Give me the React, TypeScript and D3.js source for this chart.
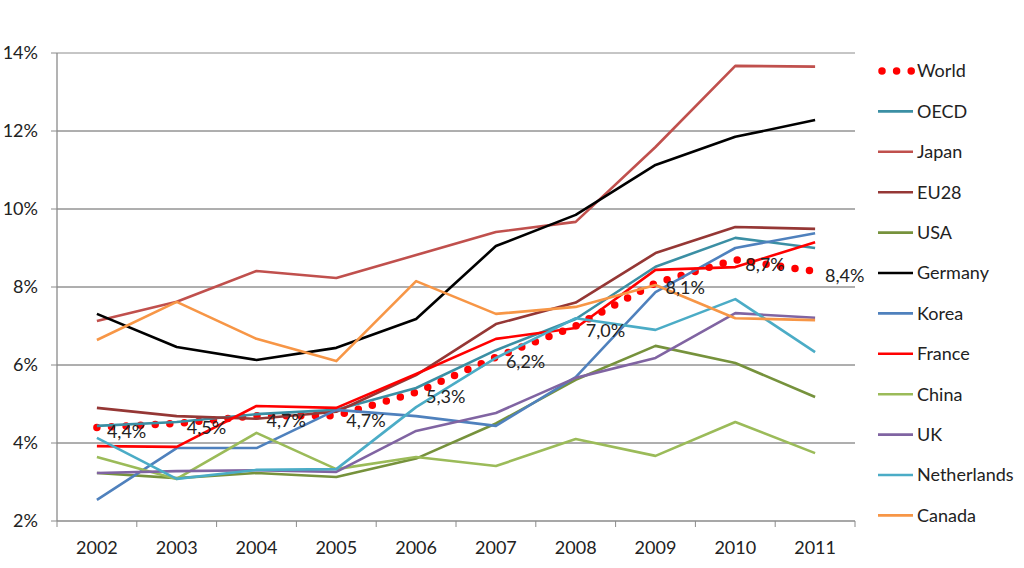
import React from "react";
import * as d3 from "d3";

const years = ["2002","2003","2004","2005","2006","2007","2008","2009","2010","2011"];
const yTicks = [2, 4, 6, 8, 10, 12, 14];

const world = [4.4, 4.5, 4.7, 4.7, 5.3, 6.2, 7.0, 8.1, 8.7, 8.4];
const worldLabels = ["4,4%","4,5%","4,7%","4,7%","5,3%","6,2%","7,0%","8,1%","8,7%","8,4%"];
const oecd = [4.44, 4.54, 4.74, 4.85, 5.41, 6.38, 7.18, 8.52, 9.26, 9.0];
const japan = [7.13, 7.62, 8.41, 8.23, 8.82, 9.41, 9.67, 11.59, 13.67, 13.65];
const eu28 = [4.9, 4.69, 4.62, 4.8, 5.74, 7.05, 7.6, 8.87, 9.54, 9.49];
const usa = [3.23, 3.1, 3.23, 3.13, 3.6, 4.5, 5.62, 6.49, 6.05, 5.18];
const germany = [7.31, 6.46, 6.13, 6.44, 7.18, 9.05, 9.85, 11.13, 11.85, 12.28];
const korea = [2.54, 3.87, 3.87, 4.85, 4.69, 4.44, 5.69, 7.87, 9.0, 9.38];
const france = [3.92, 3.9, 4.95, 4.9, 5.77, 6.67, 6.95, 8.44, 8.51, 9.15];
const china = [3.64, 3.08, 4.26, 3.33, 3.64, 3.41, 4.1, 3.67, 4.54, 3.74];
const uk = [3.23, 3.28, 3.3, 3.26, 4.31, 4.77, 5.67, 6.18, 7.33, 7.21];
const netherlands = [4.13, 3.08, 3.31, 3.33, 4.92, 6.18, 7.2, 6.9, 7.69, 6.33];
const canada = [6.64, 7.62, 6.67, 6.1, 8.15, 7.31, 7.49, 8.05, 7.2, 7.15];

const seriesNames = ["World","OECD","Japan","EU28","USA","Germany","Korea","France","China","UK","Netherlands","Canada"];
const seriesData = [world, oecd, japan, eu28, usa, germany, korea, france, china, uk, netherlands, canada];
const seriesColors = ["#FF0000","#3B8FA4","#C0504D","#953735","#76923C","#000000","#4F81BD","#FF0000","#9BBB59","#8064A2","#4BACC6","#F79646"];

const FONT = "Lato, 'Open Sans', sans-serif";
const FS = 18;

export default function App() {
  const left = 57, right = 855, top = 53, bottom = 521;
  const x = d3.scalePoint<string>().domain(years).range([left, right]).padding(0.5);
  const xb = d3.scaleBand<string>().domain(years).range([left, right]);
  const y = d3.scaleLinear().domain([2, 14]).range([bottom, top]);
  const line = d3.line<number>().x((_, i) => x(years[i]) as number).y(d => y(d));

  const legendX = 878, legendY0 = 71, legendStep = 40.4;

  return (
    <svg width={1024} height={568} style={{ position: "absolute", left: 0, top: 0, background: "#fff" }} fontFamily={FONT}>
      {yTicks.map(t => (
        <g key={t}>
          {t > 2 && <line x1={left} x2={right} y1={y(t)} y2={y(t)} stroke={t === 14 ? "#8c8c8c" : "#5e5e5e"} strokeWidth={1} />}
          <line x1={left - 6} x2={left} y1={y(t)} y2={y(t)} stroke="#8a8a8a" strokeWidth={1} />
          <text x={38} y={y(t)} dy="0.35em" textAnchor="end" fontSize={FS} fill="#222">{t}%</text>
        </g>
      ))}
      <line x1={left} x2={left} y1={top} y2={bottom} stroke="#8a8a8a" strokeWidth={1.3} />
      <line x1={left} x2={right} y1={bottom} y2={bottom} stroke="#8a8a8a" strokeWidth={1.3} />
      {[...years.map(yr => xb(yr) as number), right].map((px, i) => (
        <line key={i} x1={px} x2={px} y1={bottom} y2={bottom + 6} stroke="#8a8a8a" strokeWidth={1} />
      ))}
      {years.map(yr => (
        <text key={yr} x={x(yr)} y={548} dy="0.35em" textAnchor="middle" fontSize={FS} fill="#222">{yr}</text>
      ))}
      {seriesData.map((d, si) => (
        si === 0 ? (
          <path key={si} d={line(d) || ""} fill="none" stroke={seriesColors[si]} strokeWidth={7.5}
            strokeLinecap="round" strokeDasharray="0 14.6" />
        ) : (
          <path key={si} d={line(d) || ""} fill="none" stroke={seriesColors[si]} strokeWidth={2.6}
            strokeLinejoin="round" />
        )
      ))}
      {world.map((v, i) => (
        <text key={i} x={(x(years[i]) as number) + 10} y={y(v)} dy="0.6em" fontSize={FS} fill="#222">{worldLabels[i]}</text>
      ))}
      {seriesNames.map((n, i) => {
        const ly = legendY0 + i * legendStep;
        return (
          <g key={n}>
            {i === 0 ? (
              <line x1={882} x2={912} y1={ly} y2={ly} stroke={seriesColors[0]} strokeWidth={7.5}
                strokeLinecap="round" strokeDasharray="0 14.6" />
            ) : (
              <line x1={legendX} x2={913} y1={ly} y2={ly} stroke={seriesColors[i]} strokeWidth={2.6} />
            )}
            <text x={917} y={ly} dy="0.35em" fontSize={FS} fill="#222">{n}</text>
          </g>
        );
      })}
    </svg>
  );
}
